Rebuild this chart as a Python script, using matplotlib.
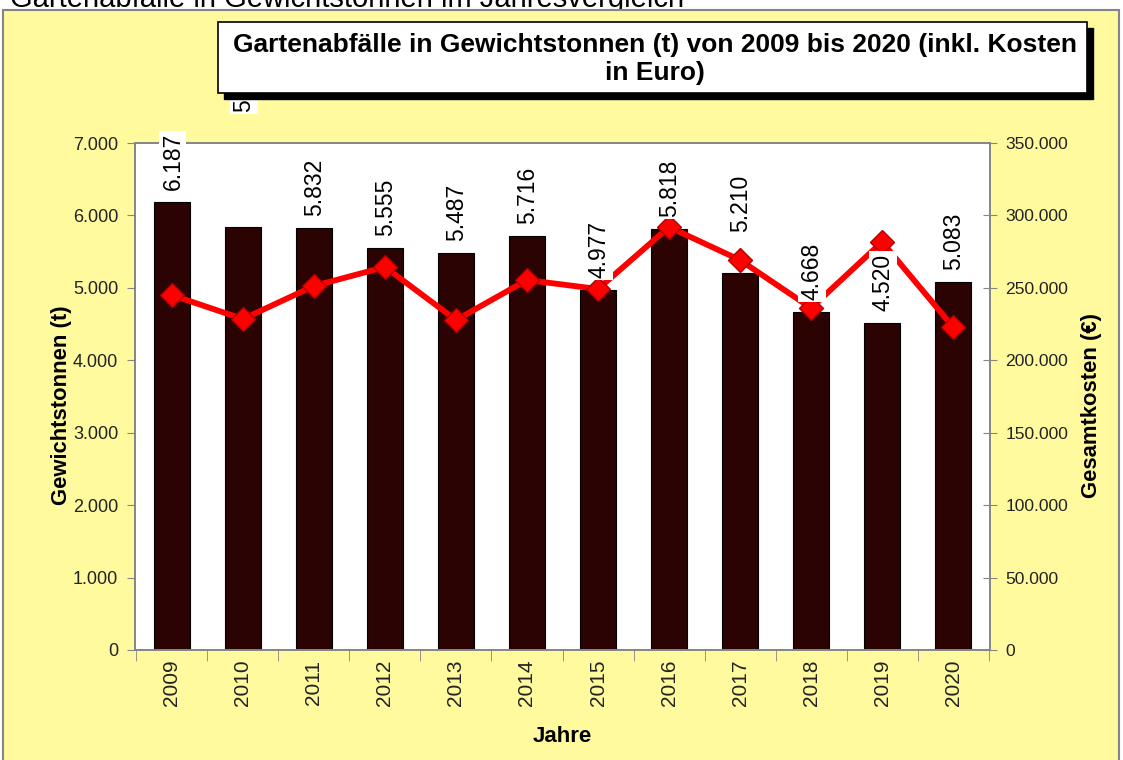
import numpy as np
import matplotlib.pyplot as plt
from matplotlib.patches import Rectangle
from matplotlib.ticker import FuncFormatter

plt.rcParams['font.family'] = ['Liberation Sans', 'DejaVu Sans']

jahre = ['2009', '2010', '2011', '2012', '2013', '2014',
         '2015', '2016', '2017', '2018', '2019', '2020']
tonnen = [6187, 5845, 5832, 5555, 5487, 5716, 4977, 5818, 5210, 4668, 4520, 5083]
kosten = [245000, 228500, 251300, 264400, 227800, 255400,
          249200, 292000, 269200, 236100, 281700, 223000]

# labels that were pushed up out of the way (pixels)
label_lift = {1: 103, 8: 29}

gelb = '#FFFA9E'
grau = '#858585'


def de(v, pos=None):
    return f'{v:,.0f}'.replace(',', '.')


fig = plt.figure(figsize=(11.23, 7.6), dpi=100, facecolor='white')

# cut-off heading above the chart frame
fig.text(10 / 1123, 753 / 760, 'Gartenabfälle in Gewichtstonnen im Jahresvergleich',
         fontsize=21, va='baseline', zorder=-11)
fig.add_artist(Rectangle((3 / 1123, -0.02), 1116 / 1123, 750 / 760 + 0.02,
                         transform=fig.transFigure, fc=gelb, ec=grau, lw=1.5, zorder=-10))

ax = fig.add_axes([135 / 1123, 110 / 760, 855 / 1123, 507 / 760])
x = np.arange(len(jahre))
ax.bar(x, tonnen, width=0.5, color='#2b0303', edgecolor='black', lw=0.8, zorder=2)
ax.set_xlim(-0.52, len(jahre) - 0.48)
ax.set_ylim(0, 7000)
ax.set_yticks(np.arange(0, 7001, 1000))
ax.yaxis.set_major_formatter(FuncFormatter(de))
ax.set_facecolor('white')

ax.set_xticks(x)
ax.set_xticklabels(jahre, rotation=90)
ax.set_xticks(np.arange(-0.5, len(jahre), 1), minor=True)
ax.tick_params(axis='x', which='major', length=0, pad=7, labelsize=15, labelcolor='#222')
ax.tick_params(axis='x', which='minor', length=8, color=grau)
ax.tick_params(axis='y', direction='out', length=6, color=grau, labelsize=13,
               labelcolor='#222', pad=6)

ax2 = ax.twinx()
ax2.plot(x, kosten, color='#ff0000', lw=4.2, marker='D', ms=12.5,
         mfc='#ff0000', mec='#b00000', mew=1, zorder=3)
ax2.set_ylim(0, 350000)
ax2.set_yticks(np.arange(0, 350001, 50000))
ax2.yaxis.set_major_formatter(FuncFormatter(de))
ax2.tick_params(axis='y', direction='inout', length=10, color=grau, labelsize=12.6,
                labelcolor='#222', pad=6)

for a in (ax, ax2):
    for s in a.spines.values():
        s.set_color(grau)
        s.set_linewidth(1.2)

# value labels on white boxes, above the line
for i, v in enumerate(tonnen):
    ax2.annotate(de(v), xy=(i, v), xycoords=ax.transData,
                 xytext=(1, 12 + label_lift.get(i, 0)), textcoords='offset pixels',
                 rotation=90, ha='center', va='bottom', fontsize=16.5,
                 bbox=dict(fc='white', ec='none', pad=1.5), zorder=5,
                 annotation_clip=False)

ax.set_ylabel('Gewichtstonnen (t)', fontsize=15.8, weight='bold')
ax.yaxis.set_label_coords(-0.0737, 0.482)
ax2.set_ylabel('Gesamtkosten (€)', fontsize=15.8, weight='bold')
ax2.yaxis.set_label_coords(1.106, 0.482)
ax.set_xlabel('Jahre', fontsize=16, weight='bold')
ax.xaxis.set_label_coords(0.5, -0.150)

# title box with drop shadow
fig.add_artist(Rectangle((224 / 1123, (760 - 99) / 760), 869 / 1123, 71 / 760,
                         transform=fig.transFigure, fc='black', ec='black', zorder=6))
fig.add_artist(Rectangle((218 / 1123, (760 - 93) / 760), 869 / 1123, 71 / 760,
                         transform=fig.transFigure, fc='white', ec='black', lw=1.2, zorder=7))
fig.text(655 / 1123, (760 - 59) / 760,
         'Gartenabfälle in Gewichtstonnen (t) von 2009 bis 2020 (inkl. Kosten\nin Euro)',
         ha='center', va='center', fontsize=19, weight='bold', linespacing=1.25, zorder=8)

fig.savefig('out.png', dpi=100, facecolor=fig.get_facecolor())
